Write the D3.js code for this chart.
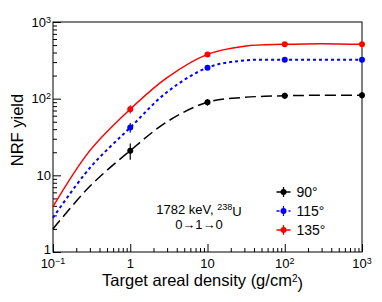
<!DOCTYPE html>
<html lang="en">
<head>
    <meta charset="UTF-8">
    <title>NRF yield vs target areal density</title>
    <script src="https://d3js.org/d3.v7.min.js"></script>
    <style>
        body { margin: 0; background: #fff; }
        svg text { font-family: "Liberation Sans", Arial, sans-serif; fill: #000; }
        .frame { fill: none; stroke: #000; stroke-width: 1; }
        .axis path { display: none; }
        .axis line { stroke: #000; }
    </style>
</head>
<body>
<div id="chart-container"></div>
<script>
// measured points (angle -> yield at areal density)
const densities = [1, 10, 100, 1000];
const yield90 = [21, 90, 109, 111];
const yield115 = [42, 254, 322, 322];
const yield135 = [73, 378, 511, 511];
const err90 = [5, 9, 10, 10];
const err115 = [6, 6, 7, 7];
const err135 = [9, 9, 9, 9];

// fitted curves
const curveX = [0.1, 0.3, 1, 3, 10, 30, 100, 300, 1000];
const curve90 = [2.0, 7.2, 21, 50, 90, 104, 109, 111, 111];
const curve115 = [2.8, 12.5, 42, 122, 254, 315, 322, 323, 322];
const curve135 = [3.9, 21, 73, 188, 378, 482, 511, 522, 511];

const xTickLabels = [[0.1, '10', '\u22121'], [1, '1', ''], [10, '10', ''], [100, '10', '2'], [1000, '10', '3']];
const yTickLabels = [[1, '1', ''], [10, '10', ''], [100, '10', '2'], [1000, '10', '3']];

const legendNames = ['90°', '115°', '135°'];

const W = 382, H = 302;
const margin = { top: 22, right: 20, bottom: 50, left: 53 };
const width = W - margin.left - margin.right;
const height = H - margin.top - margin.bottom;

const svg = d3.select('#chart-container').append('svg')
    .attr('width', W).attr('height', H);
const g = svg.append('g').attr('transform', `translate(${margin.left},${margin.top})`);

const x = d3.scaleLog().domain([0.1, 1000]).range([0, width]);
const y = d3.scaleLog().domain([1, 1000]).range([height, 0]);

// minor/major tick values
function logTicks(lo, hi) {
    const major = [], minor = [];
    for (let d = lo; d < hi; d *= 10) {
        major.push(d);
        for (let k = 2; k < 10; k++) minor.push(d * k);
    }
    major.push(hi);
    return { major, minor };
}
const xt = logTicks(0.1, 1000), yt = logTicks(1, 1000);

g.append('g').attr('class', 'axis').attr('transform', `translate(0,${height})`)
    .call(d3.axisBottom(x).tickValues(xt.minor).tickSize(-4).tickFormat(''));
g.append('g').attr('class', 'axis').attr('transform', `translate(0,${height})`)
    .call(d3.axisBottom(x).tickValues(xt.major).tickSize(-8).tickFormat(''));
g.append('g').attr('class', 'axis')
    .call(d3.axisLeft(y).tickValues(yt.minor).tickSize(-4).tickFormat(''));
g.append('g').attr('class', 'axis')
    .call(d3.axisLeft(y).tickValues(yt.major).tickSize(-8).tickFormat(''));

g.append('rect').attr('class', 'frame').attr('width', width).attr('height', height);

// tick labels with superscripts
function label(parent, base, sup) {
    parent.append('tspan').text(base);
    if (sup) parent.append('tspan').attr('dy', '-0.45em').attr('font-size', '9px').text(sup);
}
xTickLabels.forEach(([v, base, sup]) => {
    const t = g.append('text').attr('x', x(v)).attr('y', height + 16)
        .attr('text-anchor', 'middle').attr('font-size', '13px');
    label(t, base, sup);
});
yTickLabels.forEach(([v, base, sup]) => {
    const t = g.append('text').attr('x', -2).attr('y', y(v) - (v === 1 ? 3 : 0)).attr('dy', '0.35em')
        .attr('text-anchor', 'end').attr('font-size', '13px');
    label(t, base, sup);
});

// axis titles
const xt2 = g.append('text').attr('x', width / 2 - 5).attr('y', height + 34)
    .attr('text-anchor', 'middle').attr('font-size', '16.5px');
xt2.append('tspan').text('Target areal density (g/cm');
xt2.append('tspan').attr('dy', '-0.4em').attr('font-size', '10px').text('2');
xt2.append('tspan').attr('dy', '0.4em').text(')');

g.append('text').attr('transform', `translate(${-30},${height / 2 - 7}) rotate(-90)`)
    .attr('text-anchor', 'middle').attr('font-size', '16.5px').text('NRF yield');

// series
const series = [
    { pts: yield90, err: err90, curve: curve90, color: '#000', dash: '11,5', w: 1.5 },
    { pts: yield115, err: err115, curve: curve115, color: '#00f', dash: '3,3', w: 2 },
    { pts: yield135, err: err135, curve: curve135, color: '#f00', dash: null, w: 1.5 }
];

const line = d3.line()
    .x(d => x(d[0])).y(d => y(d[1]))
    .curve(d3.curveCatmullRom.alpha(0.5));

series.forEach(s => {
    g.append('path')
        .datum(curveX.map((v, i) => [v, s.curve[i]]))
        .attr('fill', 'none').attr('stroke', s.color).attr('stroke-width', s.w)
        .attr('stroke-dasharray', s.dash)
        .attr('d', line);

    g.selectAll(null).data(densities).enter().append('line')
        .attr('x1', d => x(d)).attr('x2', d => x(d))
        .attr('y1', (d, i) => y(s.pts[i] + s.err[i]))
        .attr('y2', (d, i) => y(s.pts[i] - s.err[i]))
        .attr('stroke', s.color).attr('stroke-width', 1.2);

    g.selectAll(null).data(densities).enter().append('circle')
        .attr('cx', d => x(d)).attr('cy', (d, i) => y(s.pts[i]))
        .attr('r', 3).attr('fill', s.color);
});

// legend
const legend = g.append('g').attr('transform', `translate(${x(10) + 76},${170})`);
series.forEach((s, i) => {
    const row = legend.append('g').attr('transform', `translate(0,${i * 19})`);
    row.append('line').attr('x1', -7).attr('x2', 7)
        .attr('stroke', s.color).attr('stroke-width', 1.5)
        .attr('stroke-dasharray', i === 1 ? '3,3' : null);
    row.append('line').attr('y1', -5).attr('y2', 5)
        .attr('stroke', s.color).attr('stroke-width', 1.2);
    row.append('circle').attr('r', 3).attr('fill', s.color);
    row.append('text').attr('x', 13).attr('dy', '0.35em').attr('font-size', '14px')
        .text(legendNames[i]);
});

// annotation
const ann = g.append('text').attr('x', 146).attr('y', 192)
    .attr('text-anchor', 'middle').attr('font-size', '13px');
ann.append('tspan').text('1782 keV, ');
ann.append('tspan').attr('dy', '-0.45em').attr('font-size', '9px').text('238');
ann.append('tspan').attr('dy', '0.45em').text('U');
g.append('text').attr('x', 146).attr('y', 207)
    .attr('text-anchor', 'middle').attr('font-size', '13px').text('0\u21921\u21920');
</script>
</body>
</html>
